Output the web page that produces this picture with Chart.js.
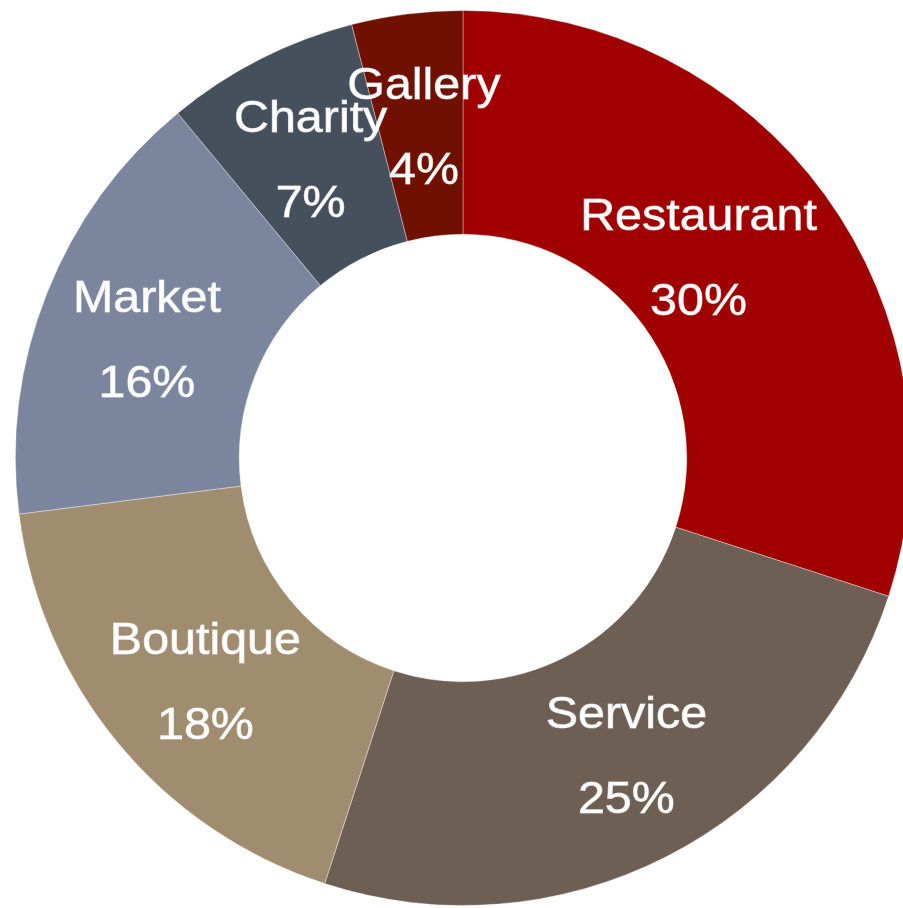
<!DOCTYPE html>
<html>
<head>
<meta charset="utf-8">
<script src="https://cdn.jsdelivr.net/npm/chart.js@4.4.0/dist/chart.umd.min.js"></script>
<style>
  html, body { margin: 0; padding: 0; background: #fff; overflow: hidden; }
  #wrap { position: absolute; left: 0; top: 0; width: 926px; height: 916px; }
</style>
</head>
<body>
<div id="wrap"><canvas id="myChart"></canvas></div>
<script>
const categories = ['Restaurant', 'Service', 'Boutique', 'Market', 'Charity', 'Gallery']
const shares = [30, 25, 18, 16, 7, 4]
const sliceColors = ['#a00000', '#6e5f55', '#a08c6e', '#7b869e', '#46505c', '#701000']

// small shifts of each label from the slice centre (x, y in px)
const labelNudge = [[-36, 0], [11, 2], [1, 13], [-4, 8], [0, 4], [3, 5]]

// writes "name" and "nn%" on two lines in the middle of every slice
const sliceLabels = {
    id: 'sliceLabels',
    afterDatasetsDraw(chart) {
        const ctx = chart.ctx
        const meta = chart.getDatasetMeta(0)
        ctx.save()
        ctx.fillStyle = '#fff'
        ctx.strokeStyle = 'rgba(255, 255, 255, 0.6)'
        ctx.lineWidth = 0.9
        ctx.textAlign = 'center'
        ctx.textBaseline = 'middle'
        ctx.font = '44px "Liberation Sans", Arial, sans-serif'
        meta.data.forEach((arc, i) => {
            const p = arc.tooltipPosition()
            const lines = [categories[i], shares[i] + '%']
            lines.forEach((txt, k) => {
                ctx.save()
                ctx.translate(p.x + labelNudge[i][0], p.y + labelNudge[i][1] + (k === 0 ? -43 : 42))
                ctx.scale(1.1, 1)
                ctx.fillText(txt, 0, 0)
                ctx.strokeText(txt, 0, 0)
                ctx.restore()
            })
        })
        ctx.restore()
    }
}

const ctx = document.getElementById('myChart').getContext('2d')
const myChart = new Chart(ctx, {
    type: 'doughnut',
    data: {
        labels: categories,
        datasets: [{
            data: shares,
            backgroundColor: sliceColors,
            borderColor: 'rgba(255, 255, 255, 0.35)',
            borderWidth: 1
        }]
    },
    options: {
        responsive: true,
        maintainAspectRatio: false,
        animation: false,
        cutout: '50%',
        layout: {
            padding: { left: 15, right: 15, top: 10, bottom: 10 }
        },
        plugins: {
            legend: { display: false },
            tooltip: { enabled: false },
            title: { display: false }
        }
    },
    plugins: [sliceLabels]
})
</script>
</body>
</html>
